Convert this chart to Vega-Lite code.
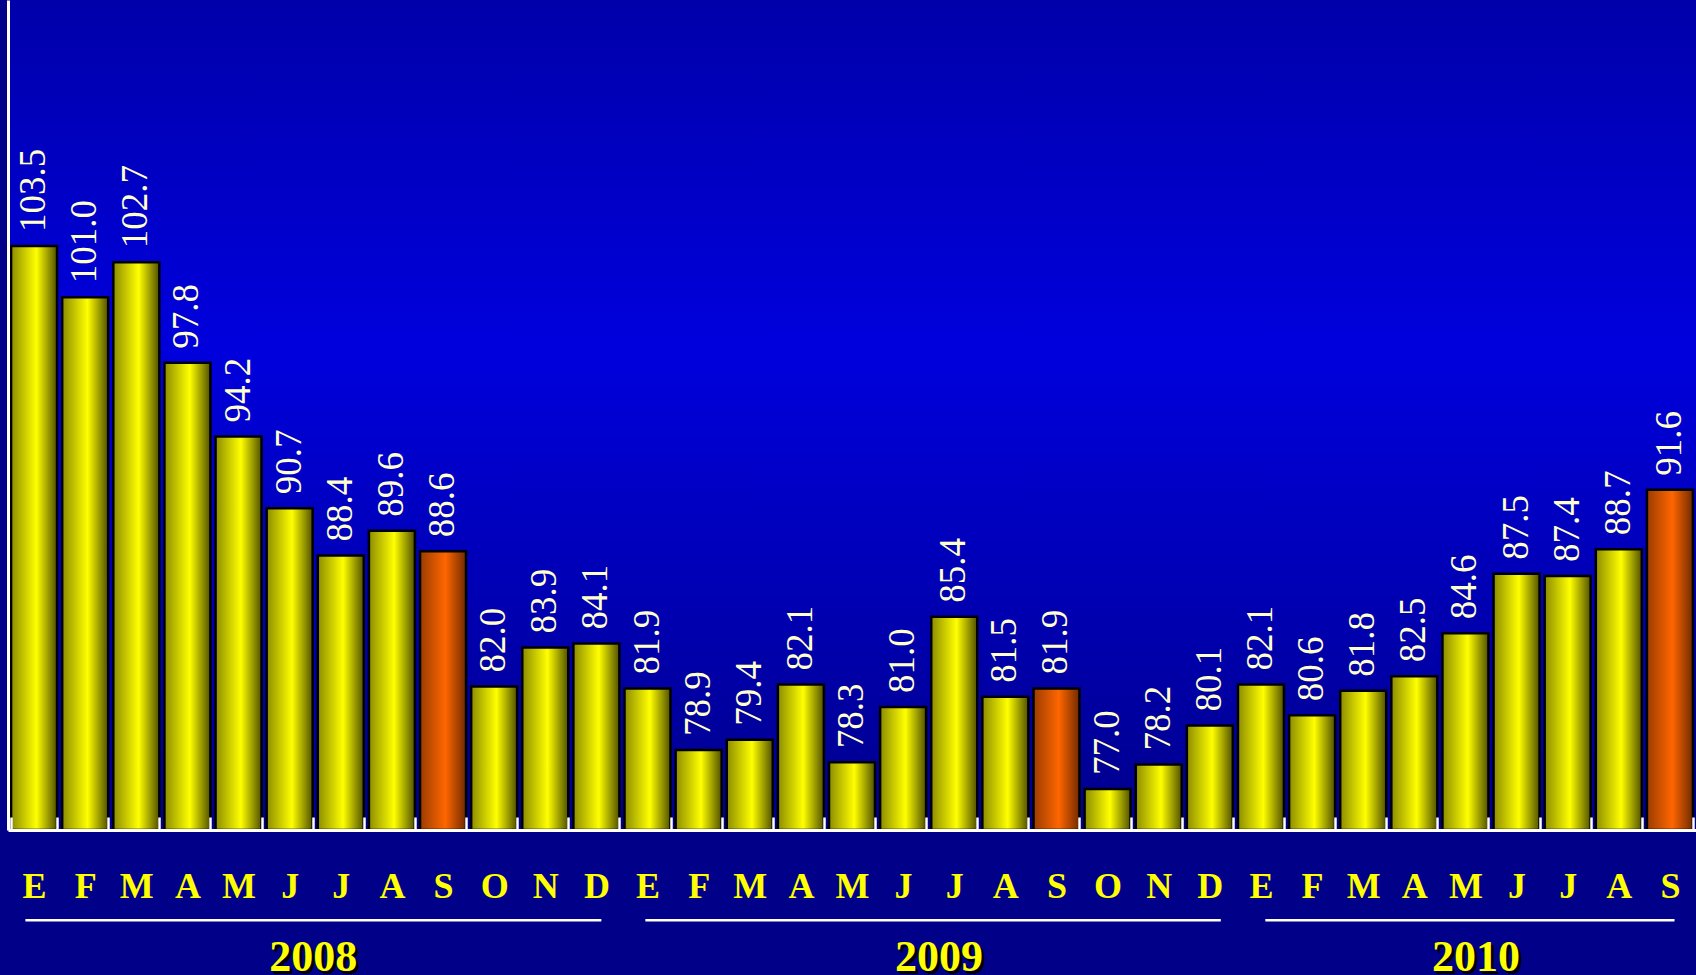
{
  "$schema": "https://vega.github.io/schema/vega-lite/v6.json",
  "width": 1688,
  "height": 830,
  "autosize": "none",
  "padding": {"left": 8, "top": 0, "right": 0, "bottom": 145},
  "background": "#000088",
  "config": {
    "view": {
      "stroke": null,
      "fill": {"gradient": "linear", "x1": 0, "y1": 0, "x2": 0, "y2": 1,
        "stops": [
          {"offset": 0, "color": "#0000aa"},
          {"offset": 0.42, "color": "#0000dd"},
          {"offset": 1, "color": "#00008c"}
        ]}
    }
  },
  "datasets": {
    "months": [
      {"k": "E08", "v": 103.5, "s": false},
      {"k": "F08", "v": 101.0, "s": false},
      {"k": "M08", "v": 102.7, "s": false},
      {"k": "A08", "v": 97.8, "s": false},
      {"k": "M08b", "v": 94.2, "s": false},
      {"k": "J08", "v": 90.7, "s": false},
      {"k": "J08b", "v": 88.4, "s": false},
      {"k": "A08b", "v": 89.6, "s": false},
      {"k": "S08", "v": 88.6, "s": true},
      {"k": "O08", "v": 82.0, "s": false},
      {"k": "N08", "v": 83.9, "s": false},
      {"k": "D08", "v": 84.1, "s": false},
      {"k": "E09", "v": 81.9, "s": false},
      {"k": "F09", "v": 78.9, "s": false},
      {"k": "M09", "v": 79.4, "s": false},
      {"k": "A09", "v": 82.1, "s": false},
      {"k": "M09b", "v": 78.3, "s": false},
      {"k": "J09", "v": 81.0, "s": false},
      {"k": "J09b", "v": 85.4, "s": false},
      {"k": "A09b", "v": 81.5, "s": false},
      {"k": "S09", "v": 81.9, "s": true},
      {"k": "O09", "v": 77.0, "s": false},
      {"k": "N09", "v": 78.2, "s": false},
      {"k": "D09", "v": 80.1, "s": false},
      {"k": "E10", "v": 82.1, "s": false},
      {"k": "F10", "v": 80.6, "s": false},
      {"k": "M10", "v": 81.8, "s": false},
      {"k": "A10", "v": 82.5, "s": false},
      {"k": "M10b", "v": 84.6, "s": false},
      {"k": "J10", "v": 87.5, "s": false},
      {"k": "J10b", "v": 87.4, "s": false},
      {"k": "A10b", "v": 88.7, "s": false},
      {"k": "S10", "v": 91.6, "s": true}
    ],
    "years": [
      {"year": "2008", "a": 0.34, "b": 11.6, "c": 5.97, "ly": 70.6, "ty": 68.1},
      {"year": "2009", "a": 12.46, "b": 23.71, "c": 18.2, "ly": 70.6, "ty": 68.1},
      {"year": "2010", "a": 24.58, "b": 32.58, "c": 28.7, "ly": 70.6, "ty": 68.1}
    ]
  },
  "layer": [
    {
      "data": {"name": "months"},
      "encoding": {
        "x": {
          "field": "k", "type": "ordinal", "sort": null,
          "scale": {
            "domain": ["E08","F08","M08","A08","M08b","J08","J08b","A08b","S08","O08","N08","D08",
                       "E09","F09","M09","A09","M09b","J09","J09b","A09b","S09","O09","N09","D09",
                       "E10","F10","M10","A10","M10b","J10","J10b","A10b","S10"],
            "paddingInner": 0.1, "paddingOuter": 0.06
          },
          "axis": {
            "title": null,
            "zindex": 1,
            "labelExpr": "substring(datum.label, 0, 1)",
            "labelAngle": 0,
            "labelFont": "Liberation Serif",
            "labelFontWeight": "bold",
            "labelFontSize": 36,
            "labelColor": "#ffff00",
            "labelBaseline": "alphabetic",
            "labelPadding": 80,
            "domainColor": "#ffffff",
            "domainWidth": 3,
            "tickColor": "#ffffff",
            "tickWidth": 2.5,
            "tickSize": -13,
            "tickBand": "extent",
            "grid": false
          }
        },
        "y": {
          "field": "v", "type": "quantitative", "stack": null,
          "scale": {"domain": [75, 115.5], "nice": false, "zero": false},
          "axis": {
            "title": null, "labels": false, "ticks": false, "grid": false, "zindex": 1,
            "domainColor": "#ffffff", "domainWidth": 3
          }
        }
      },
      "layer": [
        {
          "transform": [{"filter": "!datum.s"}],
          "mark": {
            "type": "bar", "stroke": "#000000", "strokeWidth": 2.5,
            "fill": {"gradient": "linear", "x1": 0, "y1": 0, "x2": 1, "y2": 0,
              "stops": [
                {"offset": 0, "color": "#8c8c00"},
                {"offset": 0.55, "color": "#ffff00"},
                {"offset": 1, "color": "#505000"}
              ]}
          }
        },
        {
          "transform": [{"filter": "datum.s"}],
          "mark": {
            "type": "bar", "stroke": "#000000", "strokeWidth": 2.5,
            "fill": {"gradient": "linear", "x1": 0, "y1": 0, "x2": 1, "y2": 0,
              "stops": [
                {"offset": 0, "color": "#9a3c00"},
                {"offset": 0.55, "color": "#ff6600"},
                {"offset": 1, "color": "#702a00"}
              ]}
          }
        },
        {
          "mark": {
            "type": "text", "angle": 270, "align": "left", "baseline": "middle",
            "dx": 14, "font": "Liberation Serif", "fontSize": 37, "color": "#ffffcc"
          },
          "encoding": {"text": {"field": "v", "type": "quantitative", "format": ".1f"}}
        }
      ]
    },
    {
      "data": {"name": "years"},
      "layer": [
        {
          "mark": {"type": "rule", "color": "#ffffff", "strokeWidth": 2.5},
          "encoding": {
            "x": {"field": "a", "type": "quantitative", "scale": {"domain": [0, 33], "nice": false, "zero": false}, "axis": null},
            "x2": {"field": "b"},
            "y": {"field": "ly", "type": "quantitative", "scale": {"domain": [75, 115.5], "nice": false, "zero": false}, "axis": null}
          }
        },
        {
          "mark": {"type": "text", "align": "center", "baseline": "alphabetic", "dx": 3, "dy": 3,
            "font": "Liberation Serif", "fontWeight": "bold", "fontSize": 44, "color": "#000000"},
          "encoding": {
            "x": {"field": "c", "type": "quantitative", "scale": {"domain": [0, 33], "nice": false, "zero": false}, "axis": null},
            "y": {"field": "ty", "type": "quantitative", "scale": {"domain": [75, 115.5], "nice": false, "zero": false}, "axis": null},
            "text": {"field": "year", "type": "nominal"}
          }
        },
        {
          "mark": {"type": "text", "align": "center", "baseline": "alphabetic",
            "font": "Liberation Serif", "fontWeight": "bold", "fontSize": 44, "color": "#ffff00"},
          "encoding": {
            "x": {"field": "c", "type": "quantitative", "scale": {"domain": [0, 33], "nice": false, "zero": false}, "axis": null},
            "y": {"field": "ty", "type": "quantitative", "scale": {"domain": [75, 115.5], "nice": false, "zero": false}, "axis": null},
            "text": {"field": "year", "type": "nominal"}
          }
        }
      ]
    }
  ],
  "resolve": {"scale": {"x": "independent", "y": "independent"}, "axis": {"x": "independent", "y": "independent"}}
}
